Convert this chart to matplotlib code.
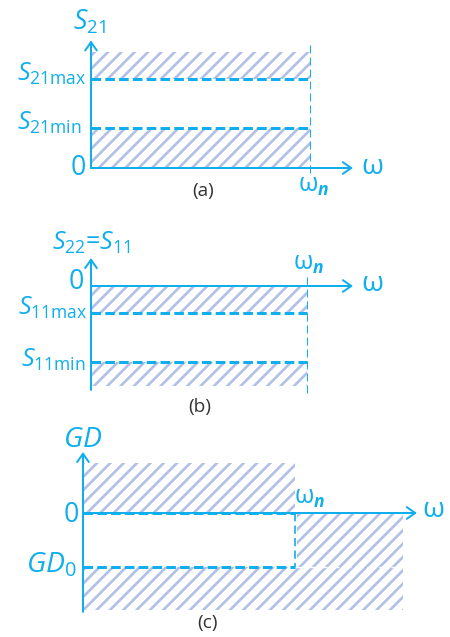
import matplotlib
matplotlib.use("Agg")
import matplotlib.pyplot as plt

# ---------------- data (normalised units, omega_n = 1) ----------------
WN = 1.0
# panel (a): S21 mask
s21_min, s21_max, s21_top = 0.345, 0.767, 1.0
# panel (b): S11 = S22 mask
s11_max, s11_min, s11_bottom = -0.27, -0.76, -1.0
# panel (c): group delay mask
gd0, gd_top, gd_bottom, w_end_c = -1.0, 0.93, -1.8, 1.51

panel_titles = ["(a)", "(b)", "(c)"]
labels_a = [r"$S_{21}$", r"$S_{21\mathrm{max}}$", r"$S_{21\mathrm{min}}$", "0"]
labels_b = [r"$S_{22}$=$S_{11}$", "0", r"$S_{11\mathrm{max}}$", r"$S_{11\mathrm{min}}$"]
labels_c = [r"$GD$", "0", r"$GD_0$"]
omega_label = r"$\mathrm{\omega}$"
omega_n_label = r"$\mathrm{\omega}_{\mathbfit{n}}$"

# ---------------- style ----------------
CYAN = "#10AEEC"
HATCH = "#B2C0E8"
DARK = "#333333"
plt.rcParams["mathtext.fontset"] = "custom"
plt.rcParams["mathtext.rm"] = "Open Sans"
plt.rcParams["mathtext.it"] = "Open Sans:italic"
plt.rcParams["mathtext.bf"] = "Open Sans:bold"
plt.rcParams["mathtext.bfit"] = "Open Sans:bold:italic"
plt.rcParams["font.family"] = ["Open Sans", "DejaVu Sans"]
plt.rcParams["hatch.linewidth"] = 1.6

W, H, DPI = 450, 637, 120
fig = plt.figure(figsize=(W / DPI, H / DPI), dpi=DPI)


def panel_axes(ox, oy, sx, sy, top_px, bot_px):
    ax = fig.add_axes([0, 1 - bot_px / H, 1, (bot_px - top_px) / H])
    ax.set_xlim(-ox / sx, (W - ox) / sx)
    ax.set_ylim((oy - bot_px) / sy, (oy - top_px) / sy)
    ax.axis("off")
    return ax


def hatch(ax, x0, x1, y0, y1):
    ax.fill_between([x0, x1], [y0, y0], [y1, y1], facecolor="none",
                    edgecolor=HATCH, linewidth=0, hatch="///")


def arrow(ax, start, end):
    ax.annotate("", xy=end, xytext=start,
                arrowprops=dict(arrowstyle="->,head_length=0.5,head_width=0.35",
                                color=CYAN, lw=1.2, shrinkA=0, shrinkB=0,
                                mutation_scale=10))


def dash(ax, xs, ys, lw=1.8, dashes=(3.2, 1.4), color=CYAN):
    ax.plot(xs, ys, color=color, lw=lw, dashes=dashes)


def label(ax, s, xy, off, size, ha="center", va="center", color=CYAN):
    ax.annotate(s, xy=xy, xytext=off, textcoords="offset pixels",
                ha=ha, va=va, fontsize=size, color=color)


# ---------------- panel (a) ----------------
ax = panel_axes(91, 168, 219, 116, 0, 212)
hatch(ax, 0, WN, s21_max, s21_top)
hatch(ax, 0, WN, 0, s21_min)
dash(ax, [0, WN], [s21_max, s21_max])
dash(ax, [0, WN], [s21_min, s21_min])
dash(ax, [WN, WN], [-0.04, 1.06], lw=0.6, dashes=(8, 4))
arrow(ax, (0, 0), (0, 1.10))
arrow(ax, (0, 0), (1.196, 0))
label(ax, labels_a[0], (0, 1.10), (-2, 18), 16)
label(ax, labels_a[1], (0, s21_max), (-5, 5), 15, ha="right")
label(ax, labels_a[2], (0, s21_min), (-9, 5), 15, ha="right")
label(ax, labels_a[3], (0, 0), (-13, 0), 16)
label(ax, omega_label, (1.196, 0), (19, 1), 17)
label(ax, omega_n_label, (WN, 0), (4, -18), 15)
label(ax, panel_titles[0], (0.511, 0), (0, -23), 11.5, color=DARK)

# ---------------- panel (b) ----------------
ax = panel_axes(91, 286, 216, 100, 212, 420)
hatch(ax, 0, WN, s11_max, 0)
hatch(ax, 0, WN, s11_bottom, s11_min)
dash(ax, [0, WN], [s11_max, s11_max])
dash(ax, [0, WN], [s11_min, s11_min])
dash(ax, [WN, WN], [-1.07, 0.13], lw=0.6, dashes=(8, 4))
arrow(ax, (0, -1.04), (0, 0.28))
arrow(ax, (0, 0), (1.213, 0))
label(ax, labels_b[0], (0, 0.28), (0, 15), 15)
label(ax, labels_b[1], (0, 0), (-15, 4), 16)
label(ax, labels_b[2], (0, s11_max), (-4, 5), 15, ha="right")
label(ax, labels_b[3], (0, s11_min), (-5, 2), 15, ha="right")
label(ax, omega_label, (1.213, 0), (19, 2), 17)
label(ax, omega_n_label, (WN, 0), (2, 23), 15)
label(ax, panel_titles[1], (0.505, s11_bottom), (0, -21), 11.5, color=DARK)

# ---------------- panel (c) ----------------
ax = panel_axes(83, 513, 212, 54, 420, 637)
hatch(ax, 0, WN, 0, gd_top)
hatch(ax, WN + 0.01, w_end_c, gd0, 0)
hatch(ax, 0, w_end_c, gd_bottom, gd0)
dash(ax, [WN, w_end_c], [gd0, gd0], lw=0.8, dashes=(6, 3), color="white")
dash(ax, [0, WN], [0, 0])
dash(ax, [0, WN], [gd0, gd0])
dash(ax, [WN, WN], [0, gd0], lw=1.0, dashes=(5, 2.5))
arrow(ax, (0, -1.83), (0, 1.13))
arrow(ax, (0, 0), (1.575, 0))
label(ax, labels_c[0], (0, 1.13), (0, 12), 17)
label(ax, labels_c[1], (0, 0), (-12, -2), 16)
label(ax, labels_c[2], (0, gd0), (-6, 2), 17, ha="right")
label(ax, omega_label, (1.575, 0), (16, 3), 17)
label(ax, omega_n_label, (WN, 0), (15, 15), 15)
label(ax, panel_titles[2], (0.585, gd_bottom), (0, -13), 11.5, color=DARK)

fig.savefig("out.png", dpi=DPI)
